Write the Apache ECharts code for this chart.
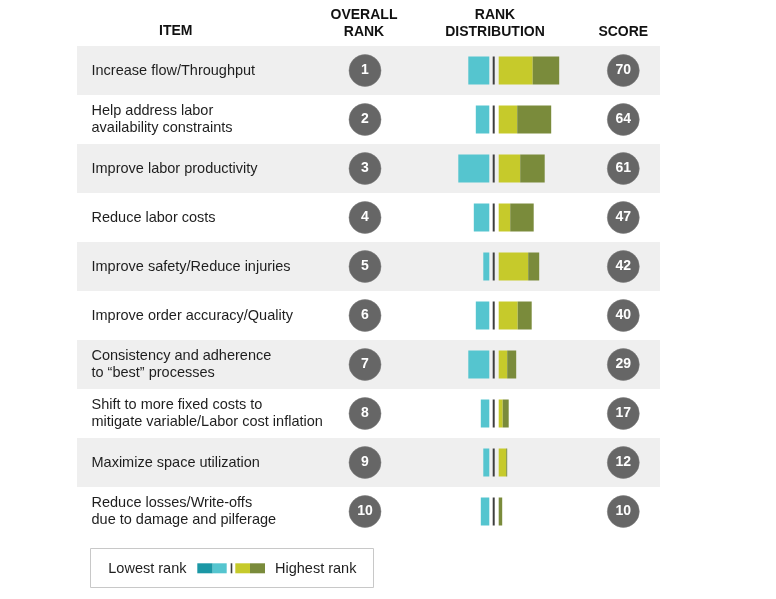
<!DOCTYPE html>
<html>
<head>
<meta charset="utf-8">
<script src="https://cdn.jsdelivr.net/npm/echarts@6/dist/echarts.min.js"></script>
<style>
html,body{margin:0;padding:0;background:#fff;}
#chart{width:776px;height:599px;}
</style>
</head>
<body>
<div id="chart"></div>
<script>
var items = [
  'Increase flow/Throughput',
  'Help address labor\navailability constraints',
  'Improve labor productivity',
  'Reduce labor costs',
  'Improve safety/Reduce injuries',
  'Improve order accuracy/Quality',
  'Consistency and adherence\nto \u201cbest\u201d processes',
  'Shift to more fixed costs to\nmitigate variable/Labor cost inflation',
  'Maximize space utilization',
  'Reduce losses/Write-offs\ndue to damage and pilferage'
];
var ranks = [1, 2, 3, 4, 5, 6, 7, 8, 9, 10];
var scores = [70, 64, 61, 47, 42, 40, 29, 17, 12, 10];
// rank distribution shares (lowest -> highest)
var lowestShare  = [0, 0, 0, 0, 0, 0, 0, 0, 0, 0];
var lowShare     = [21, 13.5, 31, 15.5, 6, 13.5, 21, 8.5, 6, 8.5];
var highShare    = [34, 18.5, 21.5, 11.5, 29.5, 19, 8.5, 4, 7.5, 0];
var highestShare = [26.5, 34, 24.5, 23.5, 11, 14, 9, 6, 1, 3.5];
var legendLabels = ['Lowest rank', 'Highest rank'];
var headers = {item: 'ITEM', rank: ['OVERALL', 'RANK'], dist: ['RANK', 'DISTRIBUTION'], score: 'SCORE'};

var C_DARKTEAL = '#1b97a5', C_CYAN = '#55c5cf', C_YEL = '#c6ca2b', C_OLIVE = '#7a8b3b';
var C_CIRCLE = '#666666', C_DIV = '#3d3d3d';
var FONT = '"Liberation Sans", Arial, Helvetica, sans-serif';

var chart = echarts.init(document.getElementById('chart'), null, {renderer: 'canvas'});

var TOP = 46, H = 490;
var idx = items.map(function (c, i) { return i; });

function catAxis(gi, show) {
  return {
    type: 'category', gridIndex: gi, data: items, inverse: true,
    axisLine: {show: false}, axisTick: {show: false},
    axisLabel: show ? {
      show: true, inside: true, align: 'left', margin: 14.5,
      fontSize: 14.5, lineHeight: 17, color: '#1e1e1e', fontFamily: FONT
    } : {show: false},
    splitLine: {show: false},
    splitArea: show ? {show: true, areaStyle: {color: ['#efefef', '#ffffff']}} : {show: false}
  };
}
function valAxis(gi, min, max, inverse) {
  return {type: 'value', gridIndex: gi, min: min, max: max, inverse: !!inverse, show: false,
          splitLine: {show: false}};
}

function circleSeries(gi, values) {
  return {
    type: 'scatter', xAxisIndex: gi, yAxisIndex: gi,
    symbol: 'circle', symbolSize: 32,
    itemStyle: {color: C_CIRCLE, opacity: 1, borderColor: '#7a7a7a', borderWidth: 0.5},
    data: idx.map(function (i) { return [0, i]; }),
    label: {show: true, position: 'inside', color: '#fff', fontWeight: 'bold', fontSize: 14,
            fontFamily: FONT, formatter: function (p) { return String(values[p.dataIndex]); }},
    silent: true
  };
}

function barSeries(gi, vals, color, stack) {
  return {
    type: 'bar', xAxisIndex: gi, yAxisIndex: gi, stack: stack, barWidth: 28,
    itemStyle: {color: color}, data: vals, silent: true
  };
}

var option = {
  animation: false,
  backgroundColor: '#ffffff',
  grid: [
    {left: 77, right: 116, top: TOP, height: H},          // table background + labels
    {left: 345, width: 40, top: TOP, height: H},          // overall rank
    {left: 449.3, width: 40, top: TOP, height: H},        // lower ranks (left side)
    {left: 498.7, width: 70, top: TOP, height: H},        // higher ranks (right side)
    {left: 603.3, width: 40, top: TOP, height: H}         // score
  ],
  xAxis: [
    valAxis(0, 0, 1), valAxis(1, -1, 1), valAxis(2, 0, 40, true), valAxis(3, 0, 70), valAxis(4, -1, 1)
  ],
  yAxis: [catAxis(0, true), catAxis(1, false), catAxis(2, false), catAxis(3, false), catAxis(4, false)],
  series: [
    circleSeries(1, ranks),
    barSeries(2, lowestShare, C_DARKTEAL, 'low'),
    barSeries(2, lowShare, C_CYAN, 'low'),
    barSeries(3, highShare, C_YEL, 'high'),
    barSeries(3, highestShare, C_OLIVE, 'high'),
    {
      type: 'custom', xAxisIndex: 3, yAxisIndex: 3, silent: true,
      data: idx.map(function (i) { return [0, i]; }),
      renderItem: function (params, api) {
        var p = api.coord([api.value(0), api.value(1)]);
        return {type: 'rect', shape: {x: p[0] - 6, y: p[1] - 14, width: 2, height: 28},
                style: {fill: C_DIV}};
      }
    },
    circleSeries(4, scores)
  ],
  graphic: [
    {type: 'text', left: 159, top: 24, style: {text: headers.item, font: 'bold 14px ' + FONT, fill: '#111'}},
    {type: 'text', x: 364, y: 15, style: {text: headers.rank[0], font: 'bold 14px ' + FONT, fill: '#111', textAlign: 'center', textVerticalAlign: 'middle'}},
    {type: 'text', x: 364, y: 32.5, style: {text: headers.rank[1], font: 'bold 14px ' + FONT, fill: '#111', textAlign: 'center', textVerticalAlign: 'middle'}},
    {type: 'text', x: 495, y: 15, style: {text: headers.dist[0], font: 'bold 14px ' + FONT, fill: '#111', textAlign: 'center', textVerticalAlign: 'middle'}},
    {type: 'text', x: 495, y: 32.5, style: {text: headers.dist[1], font: 'bold 14px ' + FONT, fill: '#111', textAlign: 'center', textVerticalAlign: 'middle'}},
    {type: 'text', x: 623.3, y: 32.5, style: {text: headers.score, font: 'bold 14px ' + FONT, fill: '#111', textAlign: 'center', textVerticalAlign: 'middle'}},
    // legend box
    {type: 'rect', shape: {x: 90.5, y: 548.5, width: 283, height: 39}, style: {fill: '#fff', stroke: '#c8c8c8', lineWidth: 1}},
    {type: 'text', x: 108.3, y: 568.5, style: {text: legendLabels[0], font: '14.5px ' + FONT, fill: '#1e1e1e', textVerticalAlign: 'middle'}},
    {type: 'rect', shape: {x: 197.3, y: 563.3, width: 15.4, height: 10}, style: {fill: C_DARKTEAL}},
    {type: 'rect', shape: {x: 212.7, y: 563.3, width: 14, height: 10}, style: {fill: C_CYAN}},
    {type: 'rect', shape: {x: 230.7, y: 563.3, width: 1.6, height: 10}, style: {fill: C_DIV}},
    {type: 'rect', shape: {x: 235.3, y: 563.3, width: 14.7, height: 10}, style: {fill: C_YEL}},
    {type: 'rect', shape: {x: 250, y: 563.3, width: 15, height: 10}, style: {fill: C_OLIVE}},
    {type: 'text', x: 275, y: 568.5, style: {text: legendLabels[1], font: '14.5px ' + FONT, fill: '#1e1e1e', textVerticalAlign: 'middle'}}
  ]
};
chart.setOption(option);
</script>
</body>
</html>
